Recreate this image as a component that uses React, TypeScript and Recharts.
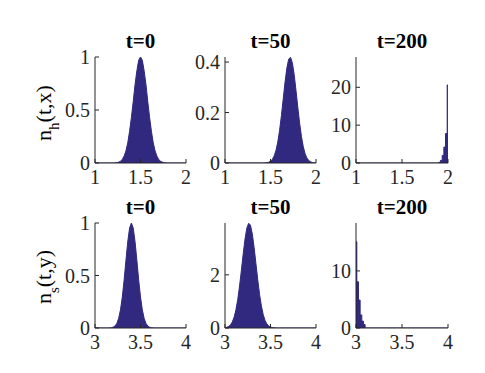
import { AreaChart, Area, XAxis, YAxis } from 'recharts';

// row 1: n_h(t,x), x in [1,2]
const xH0 = [1, 1.2, 1.22, 1.24, 1.26, 1.28, 1.3, 1.32, 1.34, 1.36, 1.38, 1.4, 1.42, 1.44, 1.46, 1.48, 1.5, 1.52, 1.54, 1.56, 1.58, 1.6, 1.62, 1.64, 1.66, 1.68, 1.7, 1.72, 1.74, 1.76, 1.78, 1.8, 2];
const nH0 = [0, 0, 0.001, 0.003, 0.008, 0.017, 0.034, 0.065, 0.115, 0.19, 0.3, 0.43, 0.58, 0.74, 0.87, 0.97, 1, 0.97, 0.87, 0.74, 0.58, 0.43, 0.3, 0.19, 0.115, 0.065, 0.034, 0.017, 0.008, 0.003, 0.001, 0, 0];

const xH50 = [1, 1.42, 1.44, 1.46, 1.48, 1.5, 1.52, 1.54, 1.56, 1.58, 1.6, 1.62, 1.64, 1.66, 1.68, 1.7, 1.72, 1.74, 1.76, 1.78, 1.8, 1.82, 1.84, 1.86, 1.88, 1.9, 1.92, 1.94, 1.96, 1.98, 2];
const nH50 = [0, 0, 0.0005, 0.0013, 0.003, 0.007, 0.014, 0.028, 0.05, 0.083, 0.13, 0.188, 0.255, 0.321, 0.377, 0.412, 0.419, 0.397, 0.351, 0.288, 0.221, 0.158, 0.105, 0.065, 0.037, 0.02, 0.01, 0.005, 0.002, 0.001, 0];

const xH200 = [1, 1.892, 1.91, 1.928, 1.946, 1.964, 1.982, 2];
const nH200 = [0, 0, 0.2, 0.7, 2, 4.2, 7.8, 20.6];

// row 2: n_s(t,y), y in [3,4]
const xS0 = [3, 3.14, 3.16, 3.18, 3.2, 3.22, 3.24, 3.26, 3.28, 3.3, 3.32, 3.34, 3.36, 3.38, 3.4, 3.42, 3.44, 3.46, 3.48, 3.5, 3.52, 3.54, 3.56, 3.58, 3.6, 3.62, 3.64, 3.66, 4];
const nS0 = [0, 0, 0.001, 0.003, 0.008, 0.019, 0.044, 0.092, 0.173, 0.295, 0.458, 0.645, 0.823, 0.952, 1, 0.952, 0.823, 0.645, 0.458, 0.295, 0.173, 0.092, 0.044, 0.019, 0.008, 0.003, 0.001, 0, 0];

const xS50 = [3, 3.02, 3.04, 3.06, 3.08, 3.1, 3.12, 3.14, 3.16, 3.18, 3.2, 3.22, 3.24, 3.26, 3.28, 3.3, 3.32, 3.34, 3.36, 3.38, 3.4, 3.42, 3.44, 3.46, 3.48, 3.5, 3.52, 3.54, 3.56, 3.58, 3.6, 4];
const nS50 = [0.011, 0.026, 0.056, 0.116, 0.224, 0.404, 0.682, 1.07, 1.58, 2.17, 2.79, 3.35, 3.76, 3.94, 3.87, 3.54, 3.03, 2.42, 1.81, 1.26, 0.825, 0.503, 0.286, 0.152, 0.076, 0.035, 0.015, 0.006, 0.002, 0, 0, 0];

const xS200 = [3, 3.018, 3.036, 3.054, 3.072, 3.09, 3.108, 4];
const nS200 = [15.1, 8.1, 4.9, 2.3, 1.2, 0.6, 0, 0];

const ticksX1 = [1, 1.5, 2];
const ticksX2 = [3, 3.5, 4];
const titles = ['t=0', 't=50', 't=200'];

const FONT = "'Liberation Serif', 'DejaVu Serif', serif";
const FILL = '#30297f';
const DARK = '#262626';
const GREY = '#8a8a8a';

type PanelProps = {
  xs: number[];
  ys: number[];
  xDomain: [number, number];
  xTicks: number[];
  yDomain: [number, number];
  yTicks: number[];
  title: string;
  left: number;
  top: number;
  w: number;
  h: number;
  curve: 'linear' | 'step';
};

const YW = 45;
const PAD_TOP = 10;
const PAD_RIGHT = 14;
const XH = 30;

function Panel({ xs, ys, xDomain, xTicks, yDomain, yTicks, title, left, top, w, h, curve }: PanelProps) {
  const data = xs.map((x, i) => ({ x, y: ys[i] }));
  const tickStyle = { fill: DARK, fontSize: 20, fontFamily: FONT, style: { fontFamily: FONT } };
  return (
    <>
      <div
        style={{
          position: 'absolute',
          left,
          width: w,
          top: top - 28,
          height: 24,
          lineHeight: '24px',
          textAlign: 'center',
          fontFamily: FONT,
          fontWeight: 'bold',
          fontSize: 21,
          color: '#000',
        }}
      >
        {title}
      </div>
      <div style={{ position: 'absolute', left: left - YW, top: top - PAD_TOP, fontFamily: FONT }}>
        <AreaChart
          width={YW + w + PAD_RIGHT}
          height={PAD_TOP + h + XH}
          data={data}
          margin={{ top: PAD_TOP, right: PAD_RIGHT, left: 0, bottom: 0 }}
          style={{ fontFamily: FONT }}
        >
          <XAxis
            xAxisId="b"
            type="number"
            dataKey="x"
            domain={xDomain}
            ticks={xTicks}
            allowDataOverflow
            interval={0}
            height={XH}
            tickSize={-4}
            tickMargin={11}
            stroke={DARK}
            tick={tickStyle}
          />
          <XAxis
            xAxisId="t"
            orientation="top"
            type="number"
            dataKey="x"
            domain={xDomain}
            ticks={xTicks}
            allowDataOverflow
            height={0}
            tickSize={-4}
            tick={false}
            stroke={GREY}
          />
          <YAxis
            yAxisId="l"
            type="number"
            domain={yDomain}
            ticks={yTicks}
            allowDataOverflow
            interval={0}
            width={YW}
            tickSize={-4}
            tickMargin={9}
            stroke={DARK}
            tick={tickStyle}
          />
          <YAxis
            yAxisId="r"
            orientation="right"
            type="number"
            domain={yDomain}
            ticks={yTicks}
            allowDataOverflow
            width={0}
            tickSize={-4}
            tick={false}
            stroke={GREY}
          />
          <Area
            xAxisId="b"
            yAxisId="l"
            type={curve}
            dataKey="y"
            stroke={FILL}
            strokeWidth={1}
            fill={FILL}
            fillOpacity={1}
            dot={false}
            activeDot={false}
            isAnimationActive={false}
          />
        </AreaChart>
      </div>
    </>
  );
}

function YLabel({ x, y, sub, rest }: { x: number; y: number; sub: string; rest: string }) {
  return (
    <text
      x={x}
      y={y}
      transform={`rotate(-90 ${x} ${y})`}
      textAnchor="middle"
      fontSize={22}
      fill="#000"
      style={{ fontFamily: FONT }}
    >
      n
      <tspan dy={8} fontSize={15}>
        {sub}
      </tspan>
      <tspan dy={-8}>{rest}</tspan>
    </text>
  );
}

export default function App() {
  const cols = [
    { left: 95, w: 91 },
    { left: 225, w: 91 },
    { left: 356, w: 92 },
  ];
  const row1 = { top: 57, h: 106 };
  const row2 = { top: 223, h: 105 };
  return (
    <div style={{ position: 'absolute', left: 0, top: 0, width: 485, height: 373, background: '#fff', overflow: 'hidden', fontFamily: FONT }}>
      <Panel xs={xH0} ys={nH0} xDomain={[1, 2]} xTicks={ticksX1} yDomain={[0, 1]} yTicks={[0, 0.5, 1]} title={titles[0]} curve="linear" {...cols[0]} {...row1} />
      <Panel xs={xH50} ys={nH50} xDomain={[1, 2]} xTicks={ticksX1} yDomain={[0, 0.42]} yTicks={[0, 0.2, 0.4]} title={titles[1]} curve="linear" {...cols[1]} {...row1} />
      <Panel xs={xH200} ys={nH200} xDomain={[1, 2]} xTicks={ticksX1} yDomain={[0, 28]} yTicks={[0, 10, 20]} title={titles[2]} curve="step" {...cols[2]} {...row1} />
      <Panel xs={xS0} ys={nS0} xDomain={[3, 4]} xTicks={ticksX2} yDomain={[0, 1]} yTicks={[0, 0.5, 1]} title={titles[0]} curve="linear" {...cols[0]} {...row2} />
      <Panel xs={xS50} ys={nS50} xDomain={[3, 4]} xTicks={ticksX2} yDomain={[0, 3.95]} yTicks={[0, 2]} title={titles[1]} curve="linear" {...cols[1]} {...row2} />
      <Panel xs={xS200} ys={nS200} xDomain={[3, 4]} xTicks={ticksX2} yDomain={[0, 18.4]} yTicks={[0, 10]} title={titles[2]} curve="step" {...cols[2]} {...row2} />
      <svg width={485} height={373} style={{ position: 'absolute', left: 0, top: 0, pointerEvents: 'none' }}>
        <YLabel x={51} y={113} sub="h" rest="(t,x)" />
        <YLabel x={51} y={277} sub="s" rest="(t,y)" />
      </svg>
    </div>
  );
}
